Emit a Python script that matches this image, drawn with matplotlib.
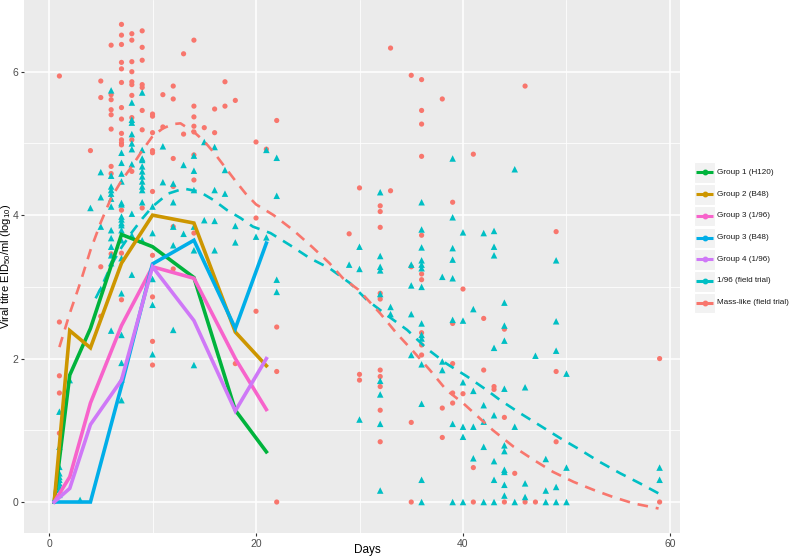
import matplotlib
matplotlib.use("Agg")
import matplotlib.pyplot as plt
from matplotlib.lines import Line2D
from matplotlib.patches import Rectangle

plt.rcParams["font.family"] = ["Liberation Sans", "DejaVu Sans"]
plt.rcParams["mathtext.fontset"] = "custom"
plt.rcParams["mathtext.rm"] = "Liberation Sans"
plt.rcParams["mathtext.it"] = "Liberation Sans"

# ---- field-trial samples (day, titres) ----
mass_days = [1, 4, 5, 6, 7, 8, 9, 10, 11, 12, 13, 14, 15, 16, 17, 18, 20, 21, 22,
             29, 30, 32, 33, 35, 36, 38, 39, 40, 41, 42, 43, 44, 45, 46, 47, 49, 59]
mass_titres = [
    [5.94, 2.51, 1.76, 1.52, 0.96],
    [4.90],
    [5.87, 5.64, 3.28, 2.59],
    [6.37, 5.68, 5.61, 5.47, 5.40, 5.20, 4.68, 4.58, 3.46],
    [6.66, 6.51, 6.38, 6.13, 6.04, 5.85, 5.50, 5.34, 5.14, 5.05, 5.01, 4.98, 4.07, 3.47, 2.82],
    [6.53, 6.44, 6.14, 6.00, 5.86, 5.82, 5.67, 5.36, 5.05, 4.61],
    [6.57, 6.34, 6.16, 5.82, 5.78, 5.46, 5.19, 4.10],
    [5.41, 5.38, 5.15, 4.90, 4.87, 4.33, 3.44, 2.86, 2.24, 1.91],
    [5.68, 5.23],
    [5.80, 5.62, 4.79, 4.40, 3.84, 3.25],
    [6.25, 5.13],
    [6.44, 5.52, 5.37, 5.24, 5.16, 4.84, 4.49, 3.75],
    [5.22],
    [5.48, 5.15],
    [5.86, 5.52],
    [5.60, 1.93],
    [5.02, 3.96, 2.66],
    [4.92],
    [5.32, 2.44, 1.82, 0.00],
    [3.74],
    [4.38, 1.78, 1.70],
    [4.13, 4.05, 3.83, 2.91, 2.83, 1.84, 1.75, 1.61, 1.28, 0.84],
    [6.33, 4.34],
    [5.95, 3.28, 1.11, 0.00],
    [5.89, 5.46, 5.27, 4.82, 3.72, 3.18, 3.10, 2.36, 2.19, 2.05],
    [5.62, 1.31, 0.90],
    [4.18, 2.49, 1.93, 1.52, 1.38],
    [2.97, 1.51],
    [4.85, 0.48, 0.00],
    [2.56, 1.84],
    [1.61, 1.57],
    [2.41, 1.18, 0.00],
    [0.40],
    [5.80, 0.00],
    [0.00],
    [3.77, 1.82, 0.84],
    [2.00, 0.00],
]

f196_days = [1, 2, 3, 4, 5, 6, 7, 8, 9, 10, 11, 12, 13, 14, 15, 16, 17, 18, 20, 21, 22,
             29, 30, 32, 33, 35, 36, 38, 39, 40, 41, 42, 43, 44, 45, 46, 47, 48, 49, 50, 59]
f196_titres = [
    [1.26, 0.77, 0.49, 0.40, 0.35, 0.31, 0.26, 0.21, 0.17, 0.10],
    [1.70],
    [0.03],
    [4.10],
    [4.60, 4.25, 3.84, 2.97],
    [5.74, 4.55, 4.40, 4.35, 4.30, 4.23, 4.12, 3.79, 3.68, 3.56, 3.44, 3.33, 2.39],
    [4.87, 4.73, 4.58, 4.47, 4.17, 4.15, 3.98, 3.94, 3.89, 3.86, 3.79, 3.65, 3.40,
     2.91, 2.33, 1.94, 1.71, 1.42],
    [5.57, 5.33, 5.29, 5.13, 5.00, 4.92, 4.71, 4.02, 3.72, 3.17],
    [5.71, 4.91, 4.79, 4.77, 4.68, 4.61, 4.54, 4.47, 4.40, 4.35, 4.18, 3.65],
    [4.12, 3.75, 3.11, 2.75, 2.06],
    [4.96, 4.46],
    [4.44, 4.18, 3.84, 3.58, 2.40],
    [4.70, 3.74],
    [4.83, 4.62, 4.35, 3.84, 3.51, 1.91],
    [5.02, 3.93],
    [4.95, 4.35, 3.92, 3.51],
    [4.63, 4.30],
    [3.85, 3.62],
    [3.70],
    [4.91, 3.69],
    [4.80, 4.27, 3.10, 2.93],
    [3.31],
    [3.56, 3.25, 1.15],
    [4.32, 3.43, 3.28, 3.23, 2.90, 1.69, 1.50, 1.09, 0.16],
    [2.72, 2.62],
    [3.31, 3.02, 2.62, 2.05],
    [4.18, 3.80, 3.55, 3.37, 3.31, 3.26, 3.00, 2.49, 2.33, 2.28, 1.92, 1.37, 0.31, 0.00],
    [3.14, 1.96, 1.84],
    [4.79, 3.97, 3.54, 3.38, 3.12, 2.54, 1.09, 0.00],
    [3.76, 2.53, 1.67, 1.05, 0.91, 0.00],
    [2.69, 1.55, 1.05, 0.61],
    [3.75, 1.35, 1.12, 0.77, 0.00],
    [3.78, 3.56, 3.44, 2.15, 1.21, 0.57, 0.31, 0.00],
    [2.78, 2.46, 2.25, 1.58, 0.79, 0.71, 0.45, 0.42, 0.24, 0.09],
    [4.64, 1.05, 0.00],
    [1.60, 0.26, 0.07],
    [2.04],
    [0.60, 0.16, 0.00],
    [3.37, 2.52, 2.11, 0.21, 0.00],
    [1.79, 0.48, 0.00],
    [0.48, 0.31],
]

# ---- smoothed field-trial trends ----
mass_fit_days = [1, 2, 3, 4, 5, 6, 7, 8, 9, 10, 11, 12, 12.7, 14, 15, 16, 17, 18, 19, 20,
                 21.7, 23.6, 25.4, 27.1, 28.4, 29.9, 32, 33.6, 35.2, 36.8, 38.4, 40,
                 41.6, 42.9, 44.9, 46.8, 48.7, 50.7, 52.6, 54.5, 56.5, 58.9]
mass_fit_titre = [2.16, 2.63, 3.05, 3.51, 3.90, 4.24, 4.48, 4.68, 4.90, 5.10, 5.21, 5.27, 5.28,
                  5.16, 5.03, 4.86, 4.67, 4.48, 4.30, 4.15, 4.00, 3.79, 3.56, 3.33, 3.12,
                  2.96, 2.63, 2.35, 2.10, 1.84, 1.56, 1.38, 1.17, 1.00, 0.77, 0.59, 0.42,
                  0.28, 0.17, 0.07, -0.02, -0.09]
f196_fit_days = [4.5, 5, 6, 7, 8, 9, 10, 11.5, 13, 14.5, 15.9, 17.2, 18.5, 19.7, 21.4,
                 23.3, 25.2, 27.1, 29.1, 30.7, 32.6, 34.6, 36.5, 38.4, 40.4, 42.3, 43.6,
                 45.5, 47.4, 49.4, 51.3, 53.2, 55.2, 57.1, 58.9]
f196_fit_titre = [2.84, 2.98, 3.30, 3.55, 3.76, 3.95, 4.12, 4.30, 4.37, 4.33, 4.21,
                  4.07, 3.96, 3.84, 3.75, 3.58, 3.40, 3.26, 3.05, 2.82, 2.61, 2.40, 2.14,
                  1.93, 1.75, 1.56, 1.42, 1.24, 1.07, 0.89, 0.73, 0.56, 0.40, 0.26, 0.12]

# ---- experimental group means ----
g1_days = [0.5, 2, 4, 7, 10, 14, 18, 21]
g1_titre = [0, 1.77, 2.42, 3.73, 3.56, 3.13, 1.28, 0.70]
g2_days = [0.5, 2, 4, 7, 10, 14, 18, 21]
g2_titre = [0, 2.39, 2.15, 3.33, 4.00, 3.89, 2.37, 1.90]
g3_days = [0.5, 2, 4, 7, 10, 14, 18, 21]
g3_titre = [0, 0.35, 1.38, 2.46, 3.28, 3.12, 2.00, 1.29]
g3b_days = [0.5, 4, 7, 10, 14, 18, 21]
g3b_titre = [0, 0, 1.62, 3.32, 3.65, 2.42, 3.61]
g4_days = [0.5, 2, 4, 7, 10, 14, 18, 21]
g4_titre = [0, 0.19, 1.08, 1.70, 3.28, 2.53, 1.27, 2.00]

legend_labels = ["Group 1 (H120)", "Group 2 (B48)", "Group 3 (1/96)", "Group 3 (B48)",
                 "Group 4 (1/96)", "1/96 (field trial)", "Mass-like (field trial)"]
colours = ["#00B33C", "#CD9600", "#F763CB", "#00AEE8", "#CF78F7", "#00BFC4", "#F8766D"]

W, H = 794, 558
fig = plt.figure(figsize=(W / 100, H / 100), dpi=100)
ax = fig.add_axes([24 / W, (H - 533) / H, (680 - 24) / W, 533 / H])
ax.set_facecolor("#EBEBEB")
for s in ax.spines.values():
    s.set_visible(False)

ax.set_xlim(-2.42, 60.97)
ax.set_ylim(-0.432, 7.0)
ax.set_xticks([0, 20, 40, 60])
ax.set_yticks([0, 2, 4, 6])
ax.set_xticks([10, 30, 50], minor=True)
ax.set_yticks([1, 3, 5], minor=True)
ax.grid(which="major", color="white", lw=1.1)
ax.grid(which="minor", color="white", lw=0.55)
ax.set_axisbelow(True)
ax.tick_params(which="major", length=2.5, width=0.8, color="#333333",
               labelsize=7.5, labelcolor="#4D4D4D", pad=1.5)
ax.tick_params(which="minor", length=0)

# points
mx, my = [], []
for d, vals in zip(mass_days, mass_titres):
    mx += [d] * len(vals)
    my += vals
tx, ty = [], []
for d, vals in zip(f196_days, f196_titres):
    tx += [d] * len(vals)
    ty += vals
ax.scatter(mx, my, s=14, marker="o", color=colours[6], edgecolors="none", zorder=2)
ax.scatter(tx, ty, s=22, marker="^", color=colours[5], edgecolors="none", zorder=2)

# smooth trends
ax.plot(f196_fit_days, f196_fit_titre, color=colours[5], lw=1.9, dashes=(4, 3), zorder=3)
ax.plot(mass_fit_days, mass_fit_titre, color=colours[6], lw=1.9, dashes=(4, 3), zorder=3)

# group means
groups = [(g1_days, g1_titre), (g2_days, g2_titre), (g3_days, g3_titre),
          (g3b_days, g3b_titre), (g4_days, g4_titre)]
for i, (d, v) in enumerate(groups):
    ax.plot(d, v, color=colours[i], lw=2.6, solid_joinstyle="miter", zorder=4)

# axis titles placed in figure pixels so nothing gets clipped
def fx(x):
    return x / W

def fy(y):
    return 1 - y / H

fig.text(fx(367), fy(550), "Days", fontsize=8.5, color="black", ha="center", va="center")
fig.text(fx(6), fy(266), "Viral titre EID$_{50}$/ml (log$_{10}$)", fontsize=8,
         color="black", ha="center", va="center", rotation=90)

# legend, drawn by hand with grey key boxes
for i, lab in enumerate(legend_labels):
    yc = 172.5 + i * 21.7
    fig.add_artist(Rectangle((fx(694), fy(yc + 10.5)), 21 / W, 20.5 / H,
                             transform=fig.transFigure, facecolor="#F2F2F2",
                             edgecolor="white", lw=0.8))
    fig.add_artist(Line2D([fx(696), fx(713)], [fy(yc), fy(yc)], transform=fig.transFigure,
                          color=colours[i], lw=2.2, solid_capstyle="butt"))
    fig.add_artist(Line2D([fx(704.5)], [fy(yc)], transform=fig.transFigure,
                          color=colours[i], marker="o", markersize=3.2, lw=0))
    fig.text(fx(717), fy(yc), lab, fontsize=5.9, color="#1A1A1A", va="center", ha="left")

fig.savefig("out.png", dpi=100)
